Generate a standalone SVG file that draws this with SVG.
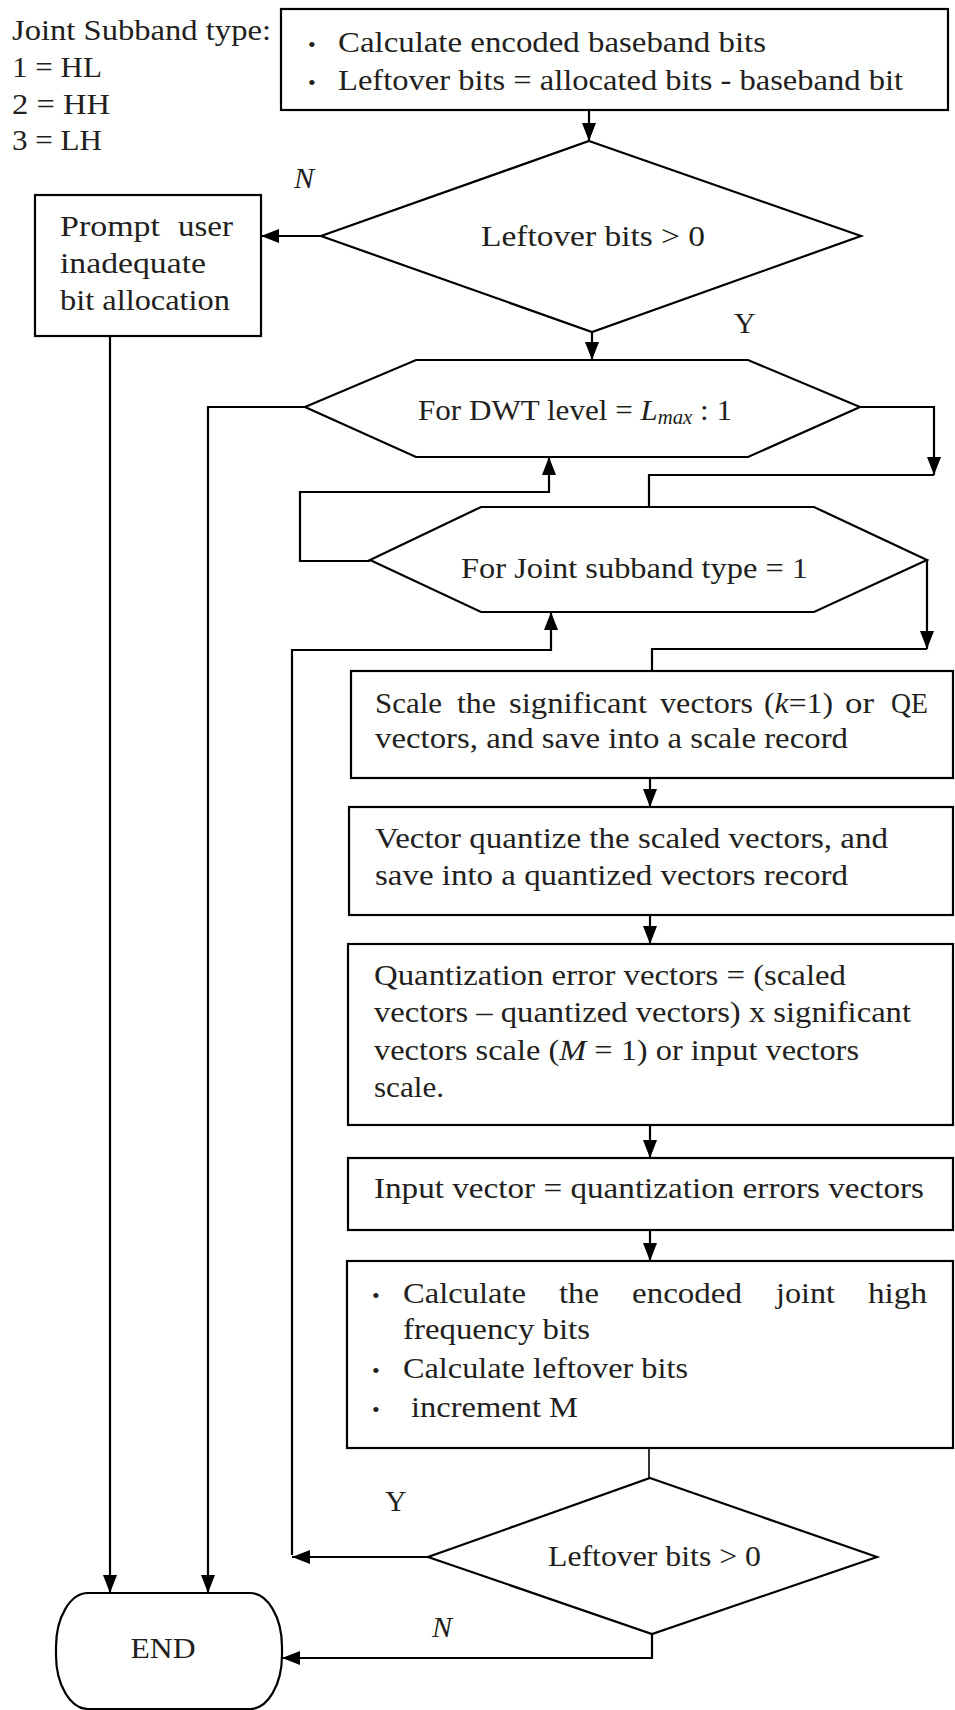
<svg xmlns="http://www.w3.org/2000/svg" width="955" height="1710" viewBox="0 0 955 1710">
<defs>
<marker id="ah" viewBox="0 0 18 14" refX="18" refY="7" markerWidth="18" markerHeight="14" markerUnits="userSpaceOnUse" orient="auto">
<path d="M0,0 L18,7 L0,14 Z" fill="#000"/>
</marker>
</defs>
<style>
.shape{fill:#fff;stroke:#000;stroke-width:2.2}
.conn{fill:none;stroke:#000;stroke-width:2.2}
.arr{marker-end:url(#ah)}
text{font-family:"Liberation Serif","Times New Roman",serif;font-size:30px;fill:#231f20}
.it{font-style:italic}
.bul{font-size:22px}
</style>
<rect width="955" height="1710" fill="#fff"/>

<g id="legend">
<text x="12" y="40" textLength="259" lengthAdjust="spacingAndGlyphs">Joint Subband type:</text>
<text x="12" y="77" textLength="90" lengthAdjust="spacingAndGlyphs">1 = HL</text>
<text x="12" y="114" textLength="98" lengthAdjust="spacingAndGlyphs">2 = HH</text>
<text x="12" y="150" textLength="90" lengthAdjust="spacingAndGlyphs">3 = LH</text>
</g>

<g id="connectors">
<path class="conn arr" d="M589 110 V141"/>
<path class="conn arr" d="M321 236 H261"/>
<path class="conn arr" d="M592 332 V360"/>
<path class="conn arr" d="M110 336 V1593"/>
<path class="conn arr" d="M305 407 H208 V1593"/>
<path class="conn arr" d="M860 407 H934 V475"/>
<path class="conn" d="M934 475 H649 V507"/>
<path class="conn arr" d="M370 561 H300 V492 H549 V457"/>
<path class="conn arr" d="M927 560 V649"/>
<path class="conn" d="M927 649 H652 V671"/>
<path class="conn arr" d="M650 778 V807"/>
<path class="conn arr" d="M650 915 V944"/>
<path class="conn arr" d="M650 1125 V1158"/>
<path class="conn arr" d="M650 1230 V1261"/>
<path class="conn" d="M649 1448 V1478" style="stroke-width:1.6"/>
<path class="conn arr" d="M428 1557 H292"/>
<path class="conn arr" d="M292 1555 V650 H551 V612"/>
<path class="conn arr" d="M652 1634 V1658 H282"/>
<text x="294" y="188" class="it">N</text>
<text x="734" y="333">Y</text>
<text x="385" y="1511">Y</text>
<text x="432" y="1637" class="it">N</text>
</g>

<g id="start-box">
<rect class="shape" x="281" y="9" width="667" height="101"/>
<text x="308" y="52" class="bul">•</text>
<text x="338" y="52" textLength="428" lengthAdjust="spacingAndGlyphs">Calculate encoded baseband bits</text>
<text x="308" y="90" class="bul">•</text>
<text x="338" y="90" textLength="565" lengthAdjust="spacingAndGlyphs">Leftover bits = allocated bits - baseband bit</text>
</g>

<g id="decision-1">
<polygon class="shape" points="589,141 861,236 592,332 321,236"/>
<text x="481" y="246" textLength="224" lengthAdjust="spacingAndGlyphs">Leftover bits &gt; 0</text>
</g>

<g id="prompt-box">
<rect class="shape" x="35" y="195" width="226" height="141"/>
<text x="60" y="236" textLength="100" lengthAdjust="spacingAndGlyphs">Prompt</text>
<text x="178" y="236" textLength="55" lengthAdjust="spacingAndGlyphs">user</text>
<text x="60" y="273" textLength="146" lengthAdjust="spacingAndGlyphs">inadequate</text>
<text x="60" y="310" textLength="170" lengthAdjust="spacingAndGlyphs">bit allocation</text>
</g>

<g id="loop-dwt">
<polygon class="shape" points="305,407 416,360 748,360 860,407 748,457 416,457"/>
<text x="418" y="420" textLength="314" lengthAdjust="spacingAndGlyphs">For DWT level = <tspan class="it">L</tspan><tspan class="it" font-size="20" dy="4">max</tspan><tspan dy="-4"> : 1</tspan></text>
</g>

<g id="loop-subband">
<polygon class="shape" points="370,560 481,507 814,507 927,560 814,612 481,612"/>
<text x="461" y="578" textLength="347" lengthAdjust="spacingAndGlyphs">For Joint subband type = 1</text>
</g>

<g id="scale-box">
<rect class="shape" x="351" y="671" width="602" height="107"/>
<text x="375" y="713" textLength="67" lengthAdjust="spacingAndGlyphs">Scale</text>
<text x="457" y="713" textLength="39" lengthAdjust="spacingAndGlyphs">the</text>
<text x="509" y="713" textLength="138" lengthAdjust="spacingAndGlyphs">significant</text>
<text x="660" y="713" textLength="93" lengthAdjust="spacingAndGlyphs">vectors</text>
<text x="764" y="713" textLength="69" lengthAdjust="spacingAndGlyphs">(<tspan class="it">k</tspan>=1)</text>
<text x="845" y="713" textLength="29" lengthAdjust="spacingAndGlyphs">or</text>
<text x="891" y="713" textLength="37" lengthAdjust="spacingAndGlyphs">QE</text>
<text x="375" y="748" textLength="473" lengthAdjust="spacingAndGlyphs">vectors, and save into a scale record</text>
</g>

<g id="vq-box">
<rect class="shape" x="349" y="807" width="604" height="108"/>
<text x="375" y="848" textLength="513" lengthAdjust="spacingAndGlyphs">Vector quantize the scaled vectors, and</text>
<text x="375" y="885" textLength="473" lengthAdjust="spacingAndGlyphs">save into a quantized vectors record</text>
</g>

<g id="qe-box">
<rect class="shape" x="348" y="944" width="605" height="181"/>
<text x="374" y="985" textLength="472" lengthAdjust="spacingAndGlyphs">Quantization error vectors = (scaled</text>
<text x="374" y="1022" textLength="537" lengthAdjust="spacingAndGlyphs">vectors – quantized vectors) x significant</text>
<text x="374" y="1060" textLength="485" lengthAdjust="spacingAndGlyphs">vectors scale (<tspan class="it">M</tspan> = 1) or input vectors</text>
<text x="374" y="1097" textLength="70" lengthAdjust="spacingAndGlyphs">scale.</text>
</g>

<g id="input-box">
<rect class="shape" x="348" y="1158" width="605" height="72"/>
<text x="374" y="1198" textLength="550" lengthAdjust="spacingAndGlyphs">Input vector = quantization errors vectors</text>
</g>

<g id="encode-box">
<rect class="shape" x="347" y="1261" width="606" height="187"/>
<text x="372" y="1303" class="bul">•</text>
<text x="403" y="1303" textLength="123" lengthAdjust="spacingAndGlyphs">Calculate</text>
<text x="559" y="1303" textLength="40" lengthAdjust="spacingAndGlyphs">the</text>
<text x="632" y="1303" textLength="110" lengthAdjust="spacingAndGlyphs">encoded</text>
<text x="776" y="1303" textLength="59" lengthAdjust="spacingAndGlyphs">joint</text>
<text x="868" y="1303" textLength="59" lengthAdjust="spacingAndGlyphs">high</text>
<text x="403" y="1339" textLength="187" lengthAdjust="spacingAndGlyphs">frequency bits</text>
<text x="372" y="1378" class="bul">•</text>
<text x="403" y="1378" textLength="285" lengthAdjust="spacingAndGlyphs">Calculate leftover bits</text>
<text x="372" y="1417" class="bul">•</text>
<text x="411" y="1417" textLength="167" lengthAdjust="spacingAndGlyphs">increment M</text>
</g>

<g id="decision-2">
<polygon class="shape" points="650,1478 877,1557 652,1634 428,1557"/>
<text x="548" y="1566" textLength="213" lengthAdjust="spacingAndGlyphs">Leftover bits &gt; 0</text>
</g>

<g id="end">
<rect class="shape" x="56" y="1593" width="226" height="116" rx="32" ry="54"/>
<text x="163" y="1658" text-anchor="middle" textLength="65" lengthAdjust="spacingAndGlyphs">END</text>
</g>
</svg>
